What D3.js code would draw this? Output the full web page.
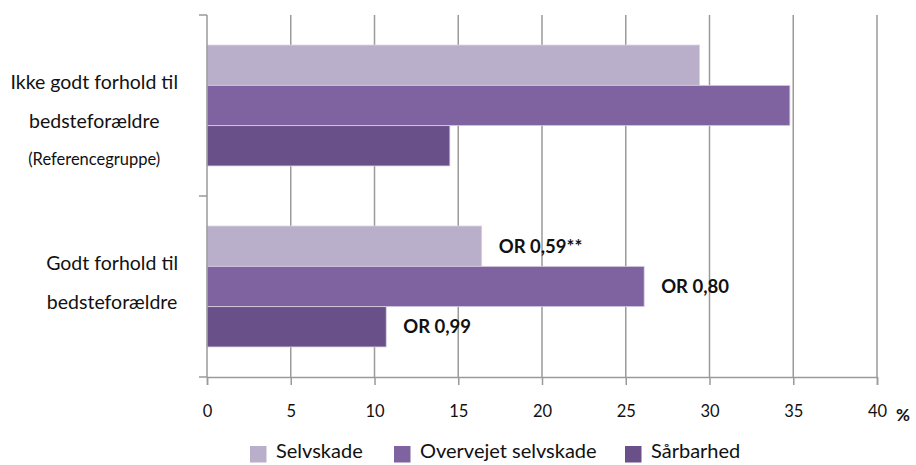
<!DOCTYPE html>
<html>
<head>
<meta charset="utf-8">
<script src="https://cdn.jsdelivr.net/npm/d3@7"></script>
<style>
  html, body { margin: 0; padding: 0; background: #fff; }
  svg { display: block; }
  text { font-family: Lato, "Open Sans", sans-serif; fill: #111; }
</style>
</head>
<body>
<svg id="chart" width="916" height="465"></svg>
<script>
const categories = [
  ["Ikke godt forhold til", "bedsteforældre", "(Referencegruppe)"],
  ["Godt forhold til", "bedsteforældre"]
];
const seriesNames = ["Selvskade", "Overvejet selvskade", "Sårbarhed"];
const selvskade = [29.4, 16.4];
const overvejet = [34.8, 26.1];
const saarbarhed = [14.5, 10.7];
const orLabels = [["", "", ""], ["OR 0,59**", "OR 0,80", "OR 0,99"]];
const xTicks = [0, 5, 10, 15, 20, 25, 30, 35, 40];
const colors = ["#BAAFCA", "#7F63A0", "#6A5088"];

const values = [selvskade, overvejet, saarbarhed];
const svg = d3.select("#chart");

const x = d3.scaleLinear().domain([0, 40]).range([207, 877]);
const y = d3.scaleBand().domain([0, 1]).range([15, 377]).padding(0);
const ys = d3.scaleBand().domain([0, 1, 2]).range([0, y.bandwidth()]).paddingInner(0).paddingOuter(0.745);

// gridlines
svg.append("g").selectAll("line").data(xTicks.slice(1)).join("line")
  .attr("x1", d => x(d)).attr("x2", d => x(d))
  .attr("y1", 15).attr("y2", 377)
  .attr("stroke", "#9a9a9a").attr("stroke-width", 1.5);

// bars
const groups = svg.append("g").selectAll("g").data(categories).join("g")
  .attr("transform", (d, i) => `translate(0,${y(i)})`);
groups.each(function(cat, ci) {
  const g = d3.select(this);
  values.forEach((vals, si) => {
    g.append("rect")
      .attr("x", x(0))
      .attr("y", ys(si))
      .attr("width", x(vals[ci]) - x(0))
      .attr("height", ys.bandwidth())
      .attr("fill", colors[si])
      .attr("stroke", "#d8d0e2").attr("stroke-width", 0.8);
    if (orLabels[ci][si]) {
      g.append("text")
        .attr("x", x(vals[ci]) + 17)
        .attr("y", ys(si) + ys.bandwidth() / 2)
        .attr("dy", "0.35em")
        .attr("font-weight", "bold")
        .attr("font-size", 18.5)
        .text(orLabels[ci][si]);
    }
  });
});

// y axis
const yAxis = svg.append("g").attr("transform", `translate(${x(0)},0)`);
yAxis.append("line").attr("x1", 0).attr("x2", 0).attr("y1", 15).attr("y2", 377)
  .attr("stroke", "#9a9a9a").attr("stroke-width", 1.5);
yAxis.selectAll("line.t").data([15, y(1), 377]).join("line").attr("class", "t")
  .attr("x1", -8).attr("x2", 0).attr("y1", d => d).attr("y2", d => d)
  .attr("stroke", "#9a9a9a").attr("stroke-width", 1.5);

// x axis
const xAxis = svg.append("g").attr("transform", "translate(0,377)")
  .call(d3.axisBottom(x).tickValues(xTicks).tickSize(8).tickPadding(20).tickFormat(d3.format("d")));
xAxis.select(".domain").attr("stroke", "#9a9a9a").attr("stroke-width", 1.5);
xAxis.selectAll(".tick line").attr("stroke", "#9a9a9a").attr("stroke-width", 1.5);
xAxis.selectAll(".tick text").attr("font-size", 16.5).attr("font-family", "Lato, sans-serif").attr("fill", "#111");
svg.append("text").attr("x", 896).attr("y", 421).attr("font-size", 17).attr("font-weight", "bold").text("%");

// category labels (baselines)
const lineYs = [[89, 128, 165], [270, 309]];
categories.forEach((lines, ci) => {
  const g = svg.append("g");
  const texts = lines.map((t, li) => g.append("text")
    .attr("y", lineYs[ci][li])
    .attr("text-anchor", "middle")
    .attr("font-size", (li === 2) ? 16.5 : 19.5)
    .text(t));
  const w = d3.max(texts, t => t.node().getComputedTextLength());
  texts.forEach(t => t.attr("x", 178 - w / 2));
});

// legend
const legendX = [250, 394, 625];
const legend = svg.append("g");
seriesNames.forEach((s, i) => {
  legend.append("rect").attr("x", legendX[i]).attr("y", 446).attr("width", 16.5).attr("height", 16.5).attr("fill", colors[i]);
  legend.append("text").attr("x", legendX[i] + 26).attr("y", 458)
    .attr("font-size", 20).text(s);
});
</script>
</body>
</html>
